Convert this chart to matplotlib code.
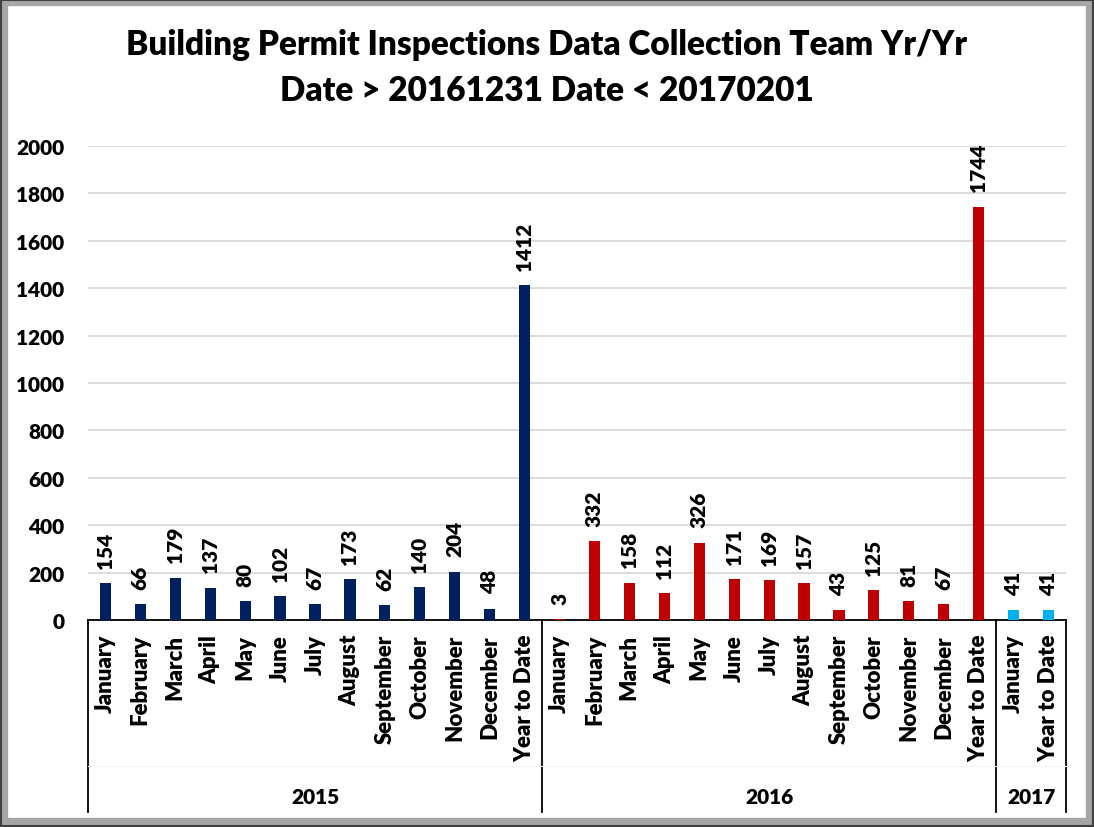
import matplotlib.pyplot as plt
from matplotlib.patches import Rectangle
import matplotlib.transforms as mtransforms

plt.rcParams['font.family'] = ['Lato', 'DejaVu Sans']
plt.rcParams['font.weight'] = 'heavy'
W = 'heavy'

months = ['January', 'February', 'March', 'April', 'May', 'June', 'July',
          'August', 'September', 'October', 'November', 'December', 'Year to Date']
months_2017 = ['January', 'Year to Date']

vals_2015 = [154, 66, 179, 137, 80, 102, 67, 173, 62, 140, 204, 48, 1412]
vals_2016 = [3, 332, 158, 112, 326, 171, 169, 157, 43, 125, 81, 67, 1744]
vals_2017 = [41, 41]

years = ['2015', '2016', '2017']
colors = ['#002060', '#C00000', '#00B0F0']

fig = plt.figure(figsize=(10.94, 8.28), dpi=100)
ax = fig.add_axes([0.0804, 0.25, 0.894, 0.5725])

groups = [(vals_2015, months), (vals_2016, months), (vals_2017, months_2017)]
labels = []
pos = 0
bounds = [pos - 0.5]
for (vals, cats), col in zip(groups, colors):
    xs = list(range(pos, pos + len(vals)))
    ax.bar(xs, vals, width=0.32, color=col, zorder=3)
    for x, v in zip(xs, vals):
        ax.annotate(str(v), (x, v), xytext=(0, 11), textcoords='offset points',
                    rotation=90, ha='center', va='bottom',
                    fontsize=15, fontweight=W)
    labels += cats
    pos += len(vals)
    bounds.append(pos - 0.5)

ax.set_xlim(-0.5, pos - 0.5)
ax.set_ylim(0, 2000)
ax.set_yticks(range(0, 2001, 200))
ax.set_xticks(range(pos))
ax.set_xticklabels(labels, rotation=90, fontsize=16, fontweight=W)
ax.tick_params(axis='x', length=0, pad=10)
ax.tick_params(axis='y', length=0, pad=17, labelsize=15)
for t in ax.get_yticklabels():
    t.set_fontweight(W)
ax.grid(axis='y', color='#d9d9d9', linewidth=1.3, zorder=0)
for s in ['left', 'right', 'top']:
    ax.spines[s].set_visible(False)
ax.spines['bottom'].set_color('black')
ax.spines['bottom'].set_linewidth(1.3)

# category group dividers below the axis
trans = mtransforms.blended_transform_factory(ax.transData, ax.transAxes)
for b in bounds:
    ax.plot([b, b], [0, -0.405], transform=trans, color='black', lw=1.3, clip_on=False)
ax.plot([-0.5, pos - 0.5], [-0.308, -0.308], transform=trans, color='#f5f5f5', lw=0.8, clip_on=False)
for i, yr in enumerate(years):
    mid = (bounds[i] + bounds[i + 1]) / 2
    ax.text(mid, -0.373, yr, transform=trans, ha='center', va='center',
            fontsize=15, fontweight=W)

fig.text(0.5, 0.946, 'Building Permit Inspections Data Collection Team Yr/Yr',
         ha='center', va='center', fontsize=24, fontweight=W)
fig.text(0.5, 0.890, 'Date > 20161231 Date < 20170201',
         ha='center', va='center', fontsize=24, fontweight=W)

# beveled frame
fig.patches.append(Rectangle((0.004, 0.006), 0.992, 0.99, transform=fig.transFigure,
                             fill=False, edgecolor='#a6a6a6', linewidth=6, zorder=0))
fig.patches.append(Rectangle((0.001, 0.001), 0.998, 0.998, transform=fig.transFigure,
                             fill=False, edgecolor='#404040', linewidth=1.5, zorder=0))

fig.savefig('out.png', dpi=100)
